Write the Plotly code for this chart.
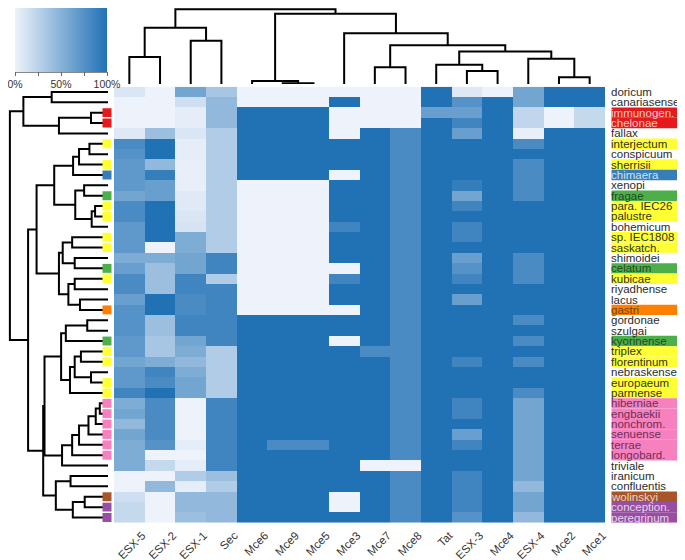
import plotly.graph_objects as go

W, H = 685, 560
OFF = 8  # the page body adds an 8 px margin around the figure
FW, FH = W - OFF, H - OFF

columns = ["ESX-5", "ESX-2", "ESX-1", "Sec", "Mce6", "Mce9", "Mce5", "Mce3",
           "Mce7", "Mce8", "Tat", "ESX-3", "Mce4", "ESX-4", "Mce2", "Mce1"]

rows = ["doricum", "canariasense", "immunogen.", "chelonae", "fallax",
        "interjectum", "conspicuum", "sherrisii", "chimaera", "xenopi",
        "fragae", "para. IEC26", "palustre", "bohemicum", "sp. IEC1808",
        "saskatch.", "shimoidei", "celatum", "kubicae", "riyadhense",
        "lacus", "gastri", "gordonae", "szulgai", "kyorinense", "triplex",
        "florentinum", "nebraskense", "europaeum", "parmense", "hiberniae",
        "engbaekii", "nonchrom.", "senuense", "terrae", "longobard.",
        "triviale", "iranicum", "confluentis", "wolinskyi", "conception.",
        "peregrinum"]

row_groups = ["", "", "red", "red", "", "yellow", "", "yellow", "blue", "",
              "green", "yellow", "yellow", "", "yellow", "yellow", "", "green",
              "yellow", "", "", "orange", "", "", "green", "yellow", "yellow",
              "", "yellow", "yellow", "pink", "pink", "pink", "pink", "pink",
              "pink", "", "", "", "brown", "purple", "purple"]

# fraction present (0-1), one row per species, columns as above
values = [
    [0.10, 0.00, 0.60, 0.35, 0, 0, 0, 0, 0, 0.0, 1, 0.08, 0, 0.60, 1, 1],
    [0.00, 0.00, 0.15, 0.45, 0, 0, 0, 1, 0, 0.0, 1, 0.75, 1, 0.60, 1, 1],
    [0.00, 0.00, 0.05, 0.45, 1, 1, 1, 0, 0, 0.0, 0.65, 0.65, 1, 0.22, 0, 0.2],
    [0.00, 0.00, 0.05, 0.45, 1, 1, 1, 0, 0, 0.0, 1, 0.85, 1, 0.22, 0, 0.2],
    [0.08, 0.40, 0.10, 0.30, 1, 1, 1, 0, 1, 0.8, 1, 0.65, 1, 0.03, 1, 1],
    [0.80, 1.00, 0.05, 0.30, 1, 1, 1, 1, 1, 0.8, 1, 1, 1, 0.80, 1, 1],
    [0.75, 1.00, 0.05, 0.30, 1, 1, 1, 1, 1, 0.8, 1, 1, 1, 1, 1, 1],
    [0.70, 0.45, 0.03, 0.30, 1, 1, 1, 1, 1, 0.8, 1, 1, 1, 0.80, 1, 1],
    [0.70, 0.90, 0.03, 0.30, 1, 1, 1, 0, 1, 0.8, 1, 1, 1, 0.80, 1, 1],
    [0.70, 0.65, 0.03, 0.30, 0, 0, 0, 1, 1, 0.8, 1, 0.9, 1, 0.80, 1, 1],
    [0.60, 0.65, 0.07, 0.30, 0, 0, 0, 1, 1, 0.8, 1, 0.6, 1, 0.80, 1, 1],
    [0.80, 1.00, 0.07, 0.30, 0, 0, 0, 1, 1, 0.8, 1, 0.85, 1, 1, 1, 1],
    [0.80, 1.00, 0.10, 0.30, 0, 0, 0, 1, 1, 0.8, 1, 1, 1, 1, 1, 1],
    [0.70, 1.00, 0.12, 0.30, 0, 0, 0, 0.85, 1, 0.8, 1, 0.85, 1, 1, 1, 1],
    [0.70, 1.00, 0.55, 0.30, 0, 0, 0, 1, 1, 0.8, 1, 0.85, 1, 1, 1, 1],
    [0.70, 0.00, 0.55, 0.30, 0, 0, 0, 1, 1, 0.8, 1, 1, 1, 1, 1, 1],
    [0.55, 0.55, 0.60, 0.85, 0, 0, 0, 1, 1, 0.8, 1, 0.65, 1, 0.80, 1, 1],
    [0.65, 0.40, 0.60, 0.85, 0, 0, 0, 0, 1, 0.8, 1, 0.75, 1, 0.80, 1, 1],
    [0.80, 0.40, 0.85, 0.30, 0, 0, 0, 0.85, 1, 0.8, 1, 0.85, 1, 0.80, 1, 1],
    [0.80, 0.40, 0.85, 0.85, 0, 0, 0, 1, 1, 0.8, 1, 1, 1, 1, 1, 1],
    [0.65, 1.00, 0.80, 0.85, 0, 0, 0, 1, 1, 0.8, 1, 0.65, 1, 1, 1, 1],
    [0.75, 1.00, 0.80, 0.85, 0, 0, 0, 0, 1, 0.8, 1, 1, 1, 1, 1, 1],
    [0.75, 0.40, 0.85, 0.85, 1, 1, 1, 1, 1, 0.8, 1, 1, 1, 0.80, 1, 1],
    [0.75, 0.40, 0.85, 0.85, 1, 1, 1, 1, 1, 0.8, 1, 1, 1, 1, 1, 1],
    [0.70, 0.35, 0.60, 0.85, 1, 1, 1, 0, 1, 0.8, 1, 1, 1, 0.80, 1, 1],
    [0.70, 0.35, 0.55, 0.30, 1, 1, 1, 1, 0.8, 0.8, 1, 1, 1, 1, 1, 1],
    [0.60, 0.55, 0.45, 0.30, 1, 1, 1, 1, 1, 0.8, 1, 0.85, 1, 0.80, 1, 1],
    [0.70, 0.85, 0.55, 0.30, 1, 1, 1, 1, 1, 0.8, 1, 1, 1, 1, 1, 1],
    [0.70, 0.80, 0.60, 0.30, 1, 1, 1, 1, 1, 0.8, 1, 1, 1, 1, 1, 1],
    [0.85, 1.00, 0.60, 0.30, 1, 1, 1, 1, 1, 0.8, 1, 1, 1, 0.80, 1, 1],
    [0.55, 0.80, 0.00, 0.85, 1, 1, 1, 1, 1, 0.8, 1, 0.85, 1, 0.60, 1, 1],
    [0.60, 0.80, 0.00, 0.85, 1, 1, 1, 1, 1, 0.8, 1, 0.85, 1, 0.60, 1, 1],
    [0.45, 0.80, 0.00, 0.85, 1, 1, 1, 1, 1, 0.8, 1, 1, 1, 0.60, 1, 1],
    [0.60, 0.80, 0.00, 0.85, 1, 1, 1, 1, 1, 0.8, 1, 0.65, 1, 0.60, 1, 1],
    [0.55, 0.75, 0.05, 0.85, 1, 0.8, 0.8, 1, 1, 0.8, 1, 0.85, 1, 0.60, 1, 1],
    [0.55, 0.00, 0.00, 0.85, 1, 1, 1, 1, 1, 0.8, 1, 1, 1, 0.60, 1, 1],
    [0.55, 0.20, 0.05, 0.85, 1, 1, 1, 1, 0, 0.0, 1, 1, 1, 0.60, 1, 1],
    [0.00, 0.00, 0.30, 0.40, 1, 1, 1, 1, 1, 0.8, 1, 0.85, 1, 0.60, 1, 1],
    [0.00, 0.45, 0.05, 0.30, 1, 1, 1, 1, 1, 0.8, 1, 0.85, 1, 0.45, 1, 1],
    [0.15, 0.00, 0.45, 0.45, 1, 1, 1, 0, 1, 0.8, 1, 0.85, 1, 0.60, 1, 1],
    [0.20, 0.00, 0.45, 0.45, 1, 1, 1, 0, 1, 0.8, 1, 0.85, 1, 0.60, 1, 1],
    [0.20, 0.00, 0.40, 0.45, 1, 1, 1, 1, 1, 0.8, 1, 0.75, 1, 0.45, 1, 1],
]

# linkage (left id, right id, height); ids >= n are earlier merges
col_links = [
    (5, 6, 0.7), (4, 16, 3.3), (14, 15, 7.3), (11, 12, 14.0), (8, 9, 18.0),
    (10, 19, 20.7), (13, 18, 27.3), (0, 1, 29.0), (21, 22, 35.0),
    (20, 24, 41.7), (2, 3, 46.7), (7, 25, 54.7), (23, 26, 60.7),
    (17, 27, 75.7), (28, 29, 80.7),
]

row_links = [
    (0, 1, 59.7), (2, 3, 18.0), (43, 4, 52.0), (42, 44, 89.7),        # 42-45
    (5, 6, 19.7), (46, 7, 30.7), (47, 8, 37.0),                       # 46-48
    (9, 10, 25.3), (11, 12, 13.7), (50, 13, 17.3), (49, 51, 34.7),    # 49-52
    (48, 52, 57.0),                                                   # 53
    (14, 15, 38.0), (16, 17, 35.3), (54, 55, 48.0),                   # 54-56
    (18, 19, 35.3), (20, 21, 29.7), (57, 58, 42.0), (56, 59, 52.0),   # 57-60
    (53, 60, 75.7),                                                   # 61
    (22, 23, 22.0), (62, 24, 44.7), (25, 26, 28.7), (27, 28, 18.0),   # 62-65
    (64, 65, 35.3), (66, 29, 40.3), (63, 67, 49.7),                   # 66-68
    (30, 31, 8.7), (69, 32, 13.0), (70, 33, 20.7), (71, 34, 30.7),    # 69-72
    (72, 35, 38.0), (73, 36, 48.7), (68, 74, 67.3),                   # 73-75
    (37, 38, 39.7), (39, 40, 24.7), (77, 41, 37.3), (76, 78, 55.3),   # 76-79
    (75, 79, 68.7), (61, 80, 84.7), (45, 81, 104.0),                  # 80-82
]

group_fill = {"red": "#E41A1C", "yellow": "#FFFF33", "blue": "#377EB8",
              "green": "#4DAF4A", "orange": "#FF7F00", "pink": "#F781BF",
              "brown": "#A65628", "purple": "#984EA3"}
group_text = {"": "#2b2b2b", "red": "#F7CACA", "yellow": "#333322",
              "blue": "#CFE0F1", "green": "#234A22", "orange": "#7A3E00",
              "pink": "#6E2F58", "brown": "#EBD2C3", "purple": "#E6D3EA"}


def dendro(links, n):
    pos = {i: float(i) for i in range(n)}
    hgt = {i: 0.0 for i in range(n)}
    p, h = [], []
    for k, (a, b, d) in enumerate(links):
        p += [pos[a], pos[a], pos[b], pos[b], None]
        h += [hgt[a], d, d, hgt[b], None]
        pos[n + k] = (pos[a] + pos[b]) / 2
        hgt[n + k] = d
    return p, h


# page pixel -> paper fraction
def px(x):
    return (x - OFF) / FW


def py(y):
    return 1 - (y - OFF) / FH


HM_L, HM_R, HM_T, HM_B = 114, 605, 86.7, 522.7
FONT = "Liberation Sans, Arial, sans-serif"

fig = go.Figure()

fig.add_trace(go.Heatmap(
    z=values, x=list(range(len(columns))), y=list(range(len(rows))),
    zmin=0, zmax=1, colorscale=[[0, "#EEF3FB"], [1, "#2171B5"]],
    xaxis="x", yaxis="y", hoverinfo="skip",
    colorbar=dict(orientation="h", x=px(15), xanchor="left", y=py(8),
                  yanchor="top", len=92, lenmode="pixels", thickness=64,
                  thicknessmode="pixels", outlinewidth=0, xpad=0, ypad=0,
                  tickvals=[0, 0.25, 0.5, 0.75, 1],
                  ticktext=["0%", "", "50%", "", "100%"],
                  ticks="outside", ticklen=4, tickcolor="#666",
                  ticklabeloverflow="allow",
                  tickfont=dict(size=10.5, color="#333", family=FONT)),
))

cp, ch = dendro(col_links, len(columns))
fig.add_trace(go.Scatter(x=cp, y=ch, mode="lines", xaxis="x2", yaxis="y2",
                         line=dict(color="black", width=2), hoverinfo="skip",
                         showlegend=False))
rp, rh = dendro(row_links, len(rows))
fig.add_trace(go.Scatter(x=rh, y=rp, mode="lines", xaxis="x3", yaxis="y3",
                         line=dict(color="black", width=2), hoverinfo="skip",
                         showlegend=False))

shapes = [dict(type="line", xref="paper", yref="paper", x0=px(15), x1=px(107),
               y0=py(72.5), y1=py(72.5), line=dict(color="#888", width=1))]
annotations = []
for i, (name, g) in enumerate(zip(rows, row_groups)):
    if g:
        shapes.append(dict(type="rect", xref="paper", yref="y", x0=px(611.5),
                           x1=px(682), y0=i - 0.5, y1=i + 0.5, line_width=0,
                           fillcolor=group_fill[g]))
        shapes.append(dict(type="rect", xref="paper", yref="y", x0=px(102.5),
                           x1=px(111.5), y0=i - 0.43, y1=i + 0.43, line_width=0,
                           fillcolor=group_fill[g]))
    annotations.append(dict(x=px(611), y=i, xref="paper", yref="y", text=name,
                            xanchor="left", yanchor="middle", showarrow=False,
                            borderpad=0, borderwidth=0,
                            font=dict(size=11.5, color=group_text[g], family=FONT)))

fig.update_layout(
    width=FW, height=FH, margin=dict(l=0, r=0, t=0, b=0, autoexpand=False),
    paper_bgcolor="white", plot_bgcolor="white", showlegend=False,
    font=dict(family=FONT, color="#333"),
    xaxis=dict(domain=[px(HM_L), px(HM_R)], range=[-0.5, 15.5], anchor="y",
               tickvals=list(range(len(columns))), ticktext=columns,
               tickangle=-45, ticks="", showgrid=False, zeroline=False,
               automargin=False, ticklabelshift=13, ticklabelstandoff=3,
               tickfont=dict(size=11.5, color="#333", family=FONT)),
    yaxis=dict(domain=[py(HM_B), py(HM_T)], range=[len(rows) - 0.5, -0.5],
               anchor="x", showticklabels=False, ticks="", showgrid=False,
               zeroline=False),
    xaxis2=dict(domain=[px(HM_L), px(HM_R)], range=[-0.5, 15.5], anchor="y2",
                visible=False),
    yaxis2=dict(domain=[py(84), 1], range=[0, 82], anchor="x2", visible=False),
    xaxis3=dict(domain=[0, px(108)], range=[106, 0], anchor="y3", visible=False),
    yaxis3=dict(domain=[py(HM_B), py(HM_T)], range=[len(rows) - 0.5, -0.5],
                anchor="x3", visible=False),
    shapes=shapes, annotations=annotations,
)

fig.write_html("out.html")
